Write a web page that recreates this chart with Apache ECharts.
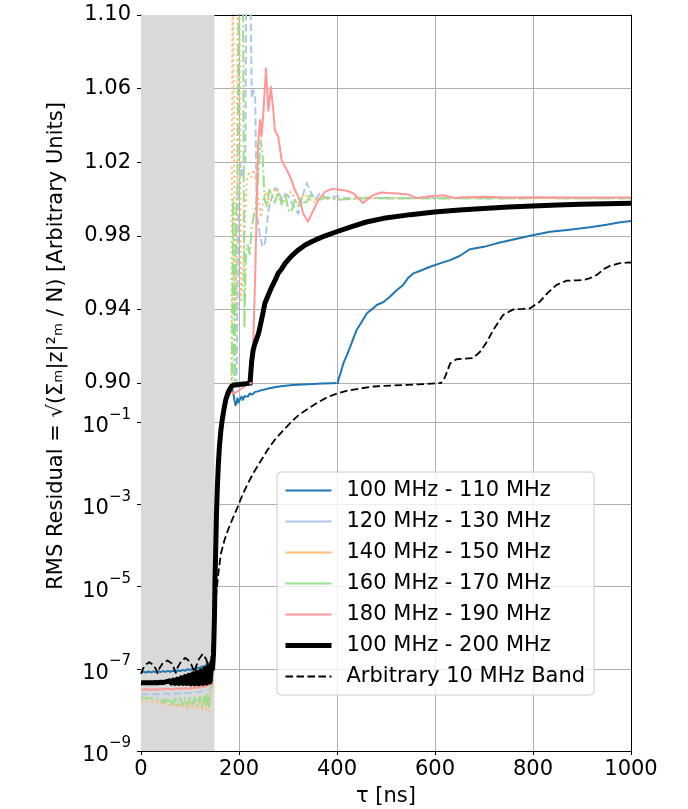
<!DOCTYPE html>
<html><head><meta charset="utf-8">
<script src="https://cdn.jsdelivr.net/npm/echarts@6/dist/echarts.min.js"></script>
<style>html,body{margin:0;padding:0;background:#fff}#chart{width:688px;height:809px}</style>
</head><body><div id="chart"></div>
<script>
// ---------------- data (tau [ns], RMS residual) ----------------
const tauTicks = [0, 200, 400, 600, 800, 1000];
const linTicks = [0.90, 0.94, 0.98, 1.02, 1.06, 1.10];
const logTicks = [1e-9, 1e-7, 1e-5, 1e-3, 1e-1];
const shadedTau = [0, 150];
const axisBreak = 0.9; // linear above, log below

const bandNames = ['100 MHz - 110 MHz', '120 MHz - 130 MHz', '140 MHz - 150 MHz',
  '160 MHz - 170 MHz', '180 MHz - 190 MHz', '100 MHz - 200 MHz', 'Arbitrary 10 MHz Band'];

const rms100to110 = [[0,8.2e-8],[5,8.5e-8],[10,8.1e-8],[15,8.6e-8],[20,8.2e-8],[25,8.6e-8],[30,8.3e-8],[35,8.7e-8],[40,8.3e-8],[45,8.8e-8],[50,8.4e-8],[55,8.9e-8],[60,8.5e-8],[65,9.0e-8],[70,8.6e-8],[75,9.1e-8],[80,8.8e-8],[85,9.4e-8],[90,9.0e-8],[95,9.7e-8],[100,9.4e-8],[105,1.0e-7],[110,9.9e-8],[115,1.06e-7],[120,1.06e-7],[125,1.14e-7],[130,1.16e-7],[135,1.3e-7],[140,1.4e-7],[145,1.7e-7],[148,3e-7],[150,3e-6],[152,4e-5],[154,5e-4],[156,3e-3],[158,0.01],[161,0.03],[165,0.08],[170,0.2],[175,0.38],[180,0.55],[185,0.68],[188,0.55],[191,0.33],[193,0.26],[195,0.3],[197,0.38],[199,0.3],[202,0.36],[205,0.42],[208,0.35],[211,0.43],[214,0.47],[218,0.42],[222,0.5],[227,0.47],[232,0.54],[236,0.52],[240,0.57],[245,0.6],[250,0.62],[256,0.64],[262,0.67],[268,0.69],[275,0.72],[290,0.76],[310,0.8],[330,0.83],[350,0.855],[370,0.87],[390,0.885],[399,0.895],[403,0.902],[408,0.906],[413,0.9107],[420,0.915],[427,0.9197],[433,0.924],[440,0.9288],[450,0.933],[461,0.9379],[471,0.940],[481,0.9424],[495,0.944],[508,0.9469],[520,0.950],[535,0.9533],[545,0.957],[556,0.9596],[570,0.961],[590,0.9632],[610,0.965],[631,0.9668],[650,0.969],[671,0.9727],[700,0.974],[726,0.9759],[760,0.978],[794,0.980],[835,0.9822],[870,0.9832],[916,0.9846],[950,0.986],[975,0.9872],[1000,0.988]];

const rms120to130 = [[0,2.3e-8],[10,2.4e-8],[20,2.35e-8],[30,2.45e-8],[40,2.4e-8],[50,2.5e-8],[60,2.45e-8],[70,2.55e-8],[80,2.5e-8],[90,2.6e-8],[100,2.55e-8],[110,2.7e-8],[120,2.75e-8],[130,2.9e-8],[140,3.2e-8],[145,3.6e-8],[148,2e-7],[150,2e-6],[152,4e-5],[154,5e-4],[156,3e-3],[158,0.01],[161,0.03],[165,0.08],[170,0.2],[175,0.4],[180,0.6],[185,0.8],[190,0.88],[195,0.9],[199,1.0],[203,1.02],[206,1.012],[210,1.016],[213,1.02],[215,1.15],[219,1.15],[223,1.12],[226,1.055],[230,1.059],[233,1.056],[236,0.994],[240,0.985],[243,0.9795],[248,0.974],[253,0.976],[260,0.994],[267,1.001],[273,1.006],[280,1.005],[287,1.0],[294,1.003],[300,1.002],[307,0.998],[314,0.995],[321,0.992],[330,1.002],[338,1.0087],[346,1.004],[355,0.9995],[365,1.003],[380,1.0],[400,1.0015],[430,1.0],[460,1.0008],[500,1.0003],[600,1.0006],[700,1.0003],[800,1.0005],[1000,1.0004]];

const rms140to150 = [[0,1.7e-8],[5,1.65e-8],[10,1.7e-8],[15,1.6e-8],[20,1.65e-8],[25,1.55e-8],[30,1.6e-8],[35,1.5e-8],[40,1.55e-8],[45,1.3e-8],[50,1.5e-8],[55,1.25e-8],[60,1.5e-8],[65,1.2e-8],[70,1.5e-8],[75,1.15e-8],[80,1.5e-8],[85,1.1e-8],[90,1.55e-8],[95,1.1e-8],[100,1.55e-8],[105,1.05e-8],[110,1.6e-8],[115,1.05e-8],[120,1.7e-8],[125,1.0e-8],[130,1.8e-8],[133,9e-9],[136,2.0e-8],[139,9e-9],[142,2.5e-8],[145,3e-8],[148,2e-7],[150,2e-6],[152,4e-5],[154,5e-4],[156,3e-3],[158,0.01],[161,0.03],[165,0.08],[170,0.2],[175,0.4],[180,0.65],[184,0.88],[187,1.15],[190,1.15],[192,0.93],[195,0.95],[198,1.15],[201,1.12],[204,0.945],[208,0.96],[212,0.985],[216,1.01],[220,1.014],[225,1.012],[230,1.016],[235,1.009],[240,1.0],[245,0.99],[250,1.0],[256,1.004],[262,0.997],[268,1.003],[275,1.006],[282,1.001],[290,0.998],[298,1.002],[306,1.004],[315,0.999],[325,1.0],[335,1.003],[350,0.998],[370,1.001],[400,1.0],[450,1.0008],[500,1.0003],[600,1.0006],[800,1.0004],[1000,1.0005]];

const rms160to170 = [[0,2.0e-8],[10,1.95e-8],[20,1.9e-8],[30,1.85e-8],[40,1.8e-8],[45,1.5e-8],[50,1.85e-8],[55,1.45e-8],[60,1.85e-8],[65,1.4e-8],[70,1.85e-8],[75,1.35e-8],[80,1.9e-8],[85,1.3e-8],[90,1.9e-8],[95,1.3e-8],[100,1.95e-8],[105,1.25e-8],[110,2e-8],[115,1.25e-8],[120,2.1e-8],[125,1.2e-8],[130,2.2e-8],[133,1.2e-8],[136,2.4e-8],[139,1.25e-8],[142,3e-8],[145,4e-8],[148,2e-7],[150,2e-6],[152,4e-5],[154,5e-4],[156,3e-3],[158,0.01],[161,0.03],[165,0.08],[170,0.2],[175,0.4],[180,0.65],[185,0.88],[188,1.0],[191,0.88],[194,0.99],[197,1.006],[200,1.15],[204,1.15],[208,1.12],[211,0.93],[214,0.97],[218,0.975],[222,0.97],[226,0.985],[230,0.99],[236,1.0],[240,1.015],[244,1.032],[248,1.025],[252,1.0],[257,0.996],[262,1.005],[267,1.002],[273,0.998],[280,1.004],[287,0.997],[294,1.003],[301,0.994],[307,0.993],[314,1.0],[321,0.996],[328,1.001],[335,0.997],[345,1.002],[360,0.999],[380,1.001],[400,0.9995],[450,1.0003],[500,1.0005],[600,1.0003],[800,1.0005],[1000,1.0004]];

const rms180to190 = [[0,3.1e-8],[10,3.2e-8],[20,3.1e-8],[30,3.2e-8],[40,3.15e-8],[50,3.25e-8],[60,3.2e-8],[70,3.3e-8],[80,3.25e-8],[90,3.35e-8],[100,3.3e-8],[110,3.45e-8],[120,3.5e-8],[130,3.7e-8],[140,4.0e-8],[145,4.5e-8],[148,2e-7],[150,2e-6],[152,4e-5],[154,5e-4],[156,3e-3],[158,0.01],[161,0.03],[165,0.08],[170,0.2],[175,0.35],[180,0.45],[185,0.55],[190,0.5],[195,0.55],[200,0.6],[204,0.59],[209,0.7],[214,0.8],[220,0.86],[224,0.89],[226,0.9],[229,0.921],[233,0.958],[236,0.994],[239,1.03],[243,1.043],[246,1.034],[250,1.048],[255,1.071],[260,1.048],[265,1.061],[270,1.048],[273,1.0375],[280,1.034],[287,1.021],[294,1.0176],[301,1.014],[307,1.0103],[314,1.005],[324,0.9995],[331,0.992],[341,0.9877],[352,0.994],[362,0.9995],[376,1.004],[390,1.0055],[406,1.005],[420,1.0045],[434,1.003],[453,0.9978],[473,1.002],[490,1.0035],[522,1.003],[545,1.0025],[563,1.0005],[590,1.0015],[618,1.002],[640,1.0005],[658,1.001],[700,1.0012],[750,1.0008],[800,1.001],[900,1.0008],[1000,1.0008]];

const rms100to200 = [[0,4.6e-8],[5,4.55e-8],[10,4.6e-8],[15,4.55e-8],[20,4.6e-8],[25,4.6e-8],[30,4.65e-8],[35,4.6e-8],[40,4.7e-8],[45,4.65e-8],[50,4.8e-8],[54,4.5e-8],[58,5.1e-8],[62,4.5e-8],[66,5.3e-8],[70,4.4e-8],[74,5.6e-8],[78,4.4e-8],[82,6.0e-8],[86,4.4e-8],[90,6.5e-8],[94,4.4e-8],[98,7.0e-8],[102,4.3e-8],[106,7.6e-8],[110,4.3e-8],[114,8.3e-8],[118,4.3e-8],[122,9.0e-8],[126,4.4e-8],[130,1.0e-7],[134,4.5e-8],[138,1.15e-7],[141,4.8e-8],[144,1.3e-7],[146,1.0e-7],[148,2.3e-7],[150,2e-6],[151,1.4e-5],[153,1.5e-4],[154,6e-4],[156,3e-3],[158,0.01],[160,0.025],[163,0.063],[166,0.12],[170,0.23],[173,0.35],[177,0.5],[181,0.63],[185,0.75],[190,0.8],[197,0.82],[205,0.84],[213,0.86],[218,0.88],[221,0.895],[223,0.902],[226,0.912],[229,0.918],[232,0.921],[236,0.9216],[240,0.927],[243,0.9306],[248,0.937],[253,0.9435],[260,0.948],[267,0.9523],[274,0.956],[280,0.9596],[287,0.962],[294,0.965],[307,0.969],[321,0.9723],[335,0.975],[348,0.9768],[362,0.9785],[376,0.980],[399,0.9822],[430,0.985],[460,0.9875],[495,0.9895],[550,0.9915],[599,0.9929],[650,0.994],[699,0.9949],[750,0.9956],[799,0.9962],[850,0.9967],[896,0.9971],[950,0.9974],[1000,0.9977]];

const rmsArbitrary = [[0,7.5e-8],[4,1.0e-7],[9,1.25e-7],[17,1.45e-7],[25,1.25e-7],[30,1.0e-7],[34,7.8e-8],[38,1.05e-7],[44,1.35e-7],[54,1.6e-7],[63,1.35e-7],[67,1.05e-7],[71,8e-8],[75,1.1e-7],[81,1.45e-7],[90,1.85e-7],[100,1.5e-7],[105,1.1e-7],[109,8.2e-8],[113,1.2e-7],[118,1.7e-7],[126,2.3e-7],[133,1.7e-7],[137,1.2e-7],[140,9e-8],[143,1.5e-7],[146,4e-7],[150,1.8e-6],[153,5.5e-6],[158,2.2e-5],[163,6.3e-5],[170,1.3e-4],[177,2.3e-4],[187,4.5e-4],[197,8.5e-4],[207,1.7e-3],[218,3.2e-3],[230,6e-3],[245,0.0117],[258,0.021],[272,0.036],[290,0.063],[306,0.1],[322,0.15],[340,0.21],[360,0.3],[381,0.41],[400,0.5],[422,0.59],[450,0.67],[476,0.74],[510,0.78],[544,0.81],[580,0.85],[605,0.89],[612,0.9],[620,0.903],[631,0.9107],[644,0.9129],[660,0.9132],[678,0.9136],[692,0.917],[705,0.922],[719,0.9288],[739,0.937],[760,0.940],[780,0.9403],[794,0.9406],[814,0.9442],[830,0.949],[848,0.9533],[869,0.9556],[890,0.9558],[903,0.956],[915,0.9568],[930,0.9587],[945,0.962],[957,0.9636],[975,0.965],[991,0.9654],[1000,0.9655]];

const bandData = [rms100to110, rms120to130, rms140to150, rms160to170, rms180to190, rms100to200, rmsArbitrary];

// ---------------- styles ----------------
const FONT = 'DejaVu Sans';
const GRID_COLOR = '#b0b0b0';
const bandStyles = [
  { color: '#1f77b4', width: 2, type: 'solid' },
  { color: '#aec7e8', width: 2, type: [7.5, 3.5] },
  { color: '#ffbb78', width: 2, type: [2, 3.3] },
  { color: '#98df8a', width: 2, type: [12, 3, 2, 3] },
  { color: '#ff9896', width: 2, type: 'solid' },
  { color: '#000000', width: 5, type: 'solid' },
  { color: '#000000', width: 1.8, type: [7.5, 3.5] }
];

const chart = echarts.init(document.getElementById('chart'), null, { renderer: 'canvas' });

function xAxisCfg(gridIndex, bottom) {
  return {
    type: 'value', gridIndex, min: tauTicks[0], max: tauTicks[tauTicks.length - 1], interval: 200,
    position: bottom ? 'bottom' : 'top',
    axisLine: { show: true, onZero: false, lineStyle: { color: '#000', width: 1 } },
    axisTick: { show: bottom, length: 4, lineStyle: { color: '#000' } },
    axisLabel: { show: bottom, fontFamily: FONT, fontSize: 21, color: '#000', margin: 8,
      formatter: v => String(v) },
    splitLine: { show: true, lineStyle: { color: GRID_COLOR, width: 1 } },
    name: bottom ? 'τ [ns]' : '', nameLocation: 'middle', nameGap: 35,
    nameTextStyle: { fontFamily: FONT, fontSize: 21, color: '#000' }
  };
}

const supRich = {
  b: { fontFamily: FONT, fontSize: 21, color: '#000', lineHeight: 30, verticalAlign: 'bottom' },
  s: { fontFamily: FONT, fontSize: 15, color: '#000', lineHeight: 20, verticalAlign: 'top' }
};

const yAxes = [
  { // top, linear, left
    type: 'value', gridIndex: 0, min: axisBreak, max: 1.1, position: 'left',
    axisLine: { show: true, onZero: false, lineStyle: { color: '#000', width: 1 } },
    axisTick: { show: true, length: 4, customValues: linTicks, lineStyle: { color: '#000' } },
    axisLabel: { customValues: linTicks, fontFamily: FONT, fontSize: 21, color: '#000', margin: 10,
      formatter: v => v.toFixed(2) },
    splitLine: { show: true, lineStyle: { color: GRID_COLOR, width: 1 } }
  },
  { // bottom, log, left
    type: 'log', logBase: 10, gridIndex: 1, min: 1e-9, max: axisBreak, position: 'left',
    axisLine: { show: true, onZero: false, lineStyle: { color: '#000', width: 1 } },
    axisTick: { show: true, length: 4, customValues: logTicks, lineStyle: { color: '#000' } },
    minorTick: { show: false },
    axisLabel: { customValues: logTicks, margin: 10, rich: supRich,
      formatter: v => '{b|10}{s|−' + Math.round(-Math.log10(v)) + '}' },
    splitLine: { show: true, lineStyle: { color: GRID_COLOR, width: 1 } }
  },
  { // top right spine
    type: 'value', gridIndex: 0, min: axisBreak, max: 1.1, position: 'right',
    axisLine: { show: true, onZero: false, lineStyle: { color: '#000', width: 1 } },
    axisTick: { show: false }, axisLabel: { show: false }, splitLine: { show: false }
  },
  { // bottom right spine
    type: 'log', logBase: 10, gridIndex: 1, min: 1e-9, max: axisBreak, position: 'right',
    axisLine: { show: true, onZero: false, lineStyle: { color: '#000', width: 1 } },
    axisTick: { show: false }, axisLabel: { show: false }, splitLine: { show: false }
  }
];

const series = [];
[0, 1].forEach(g => {
  bandNames.forEach((name, i) => {
    const st = bandStyles[i];
    // log panel shows only the part below the axis break (the linear panel shows the rest)
    const data = g === 0 ? bandData[i] : bandData[i].map(p => (p[1] > axisBreak ? [p[0], null] : p));
    const s = {
      type: 'line', name, data, xAxisIndex: g, yAxisIndex: g,
      symbol: 'none', showSymbol: false, clip: true, silent: true, connectNulls: false,
      lineStyle: { color: st.color, width: st.width, type: st.type, cap: 'butt', join: 'round' },
      itemStyle: { color: st.color },
      emphasis: { disabled: true }
    };
    if (i === 0) {
      s.markArea = {
        silent: true,
        itemStyle: { color: '#d9d9d9' },
        data: [[{ xAxis: shadedTau[0] }, { xAxis: shadedTau[1] }]]
      };
    }
    series.push(s);
  });
});

const legendWidths = [2, 2, 2, 2, 2, 5, 1.8];
const option = {
  animation: false,
  backgroundColor: '#ffffff',
  grid: [
    { left: 141, top: 15, width: 490, height: 368, outerBoundsMode: 'none' },
    { left: 141, top: 383, width: 490, height: 368, outerBoundsMode: 'none' }
  ],
  xAxis: [xAxisCfg(0, false), xAxisCfg(1, true)],
  yAxis: yAxes,
  legend: {
    orient: 'vertical', left: 277, top: 472,
    itemWidth: 46, itemHeight: 14, itemGap: 10,
    padding: [8, 9, 8, 6],
    backgroundColor: 'rgba(255,255,255,0.8)', borderColor: '#cccccc', borderWidth: 1, borderRadius: 4,
    selectedMode: false,
    textStyle: { fontFamily: FONT, fontSize: 21, color: '#000', padding: [0, 0, 0, 10] },
    data: bandNames.map((n, i) => ({
      name: n,
      itemStyle: { color: 'rgba(0,0,0,0)', borderWidth: 0, opacity: 0 },
      lineStyle: { color: bandStyles[i].color, width: legendWidths[i], type: i === 6 ? [7.5, 3.5] : 'solid' }
    }))
  },
  graphic: [{
    type: 'text', x: 57, y: 346, rotation: Math.PI / 2, silent: true,
    style: {
      text: 'RMS Residual = √(Σₘ|z|²ₘ / N) [Arbitrary Units]',
      fill: '#000', fontFamily: FONT, fontSize: 21,
      align: 'center', verticalAlign: 'middle'
    }
  }],
  series
};
chart.setOption(option);
</script>
</body></html>
